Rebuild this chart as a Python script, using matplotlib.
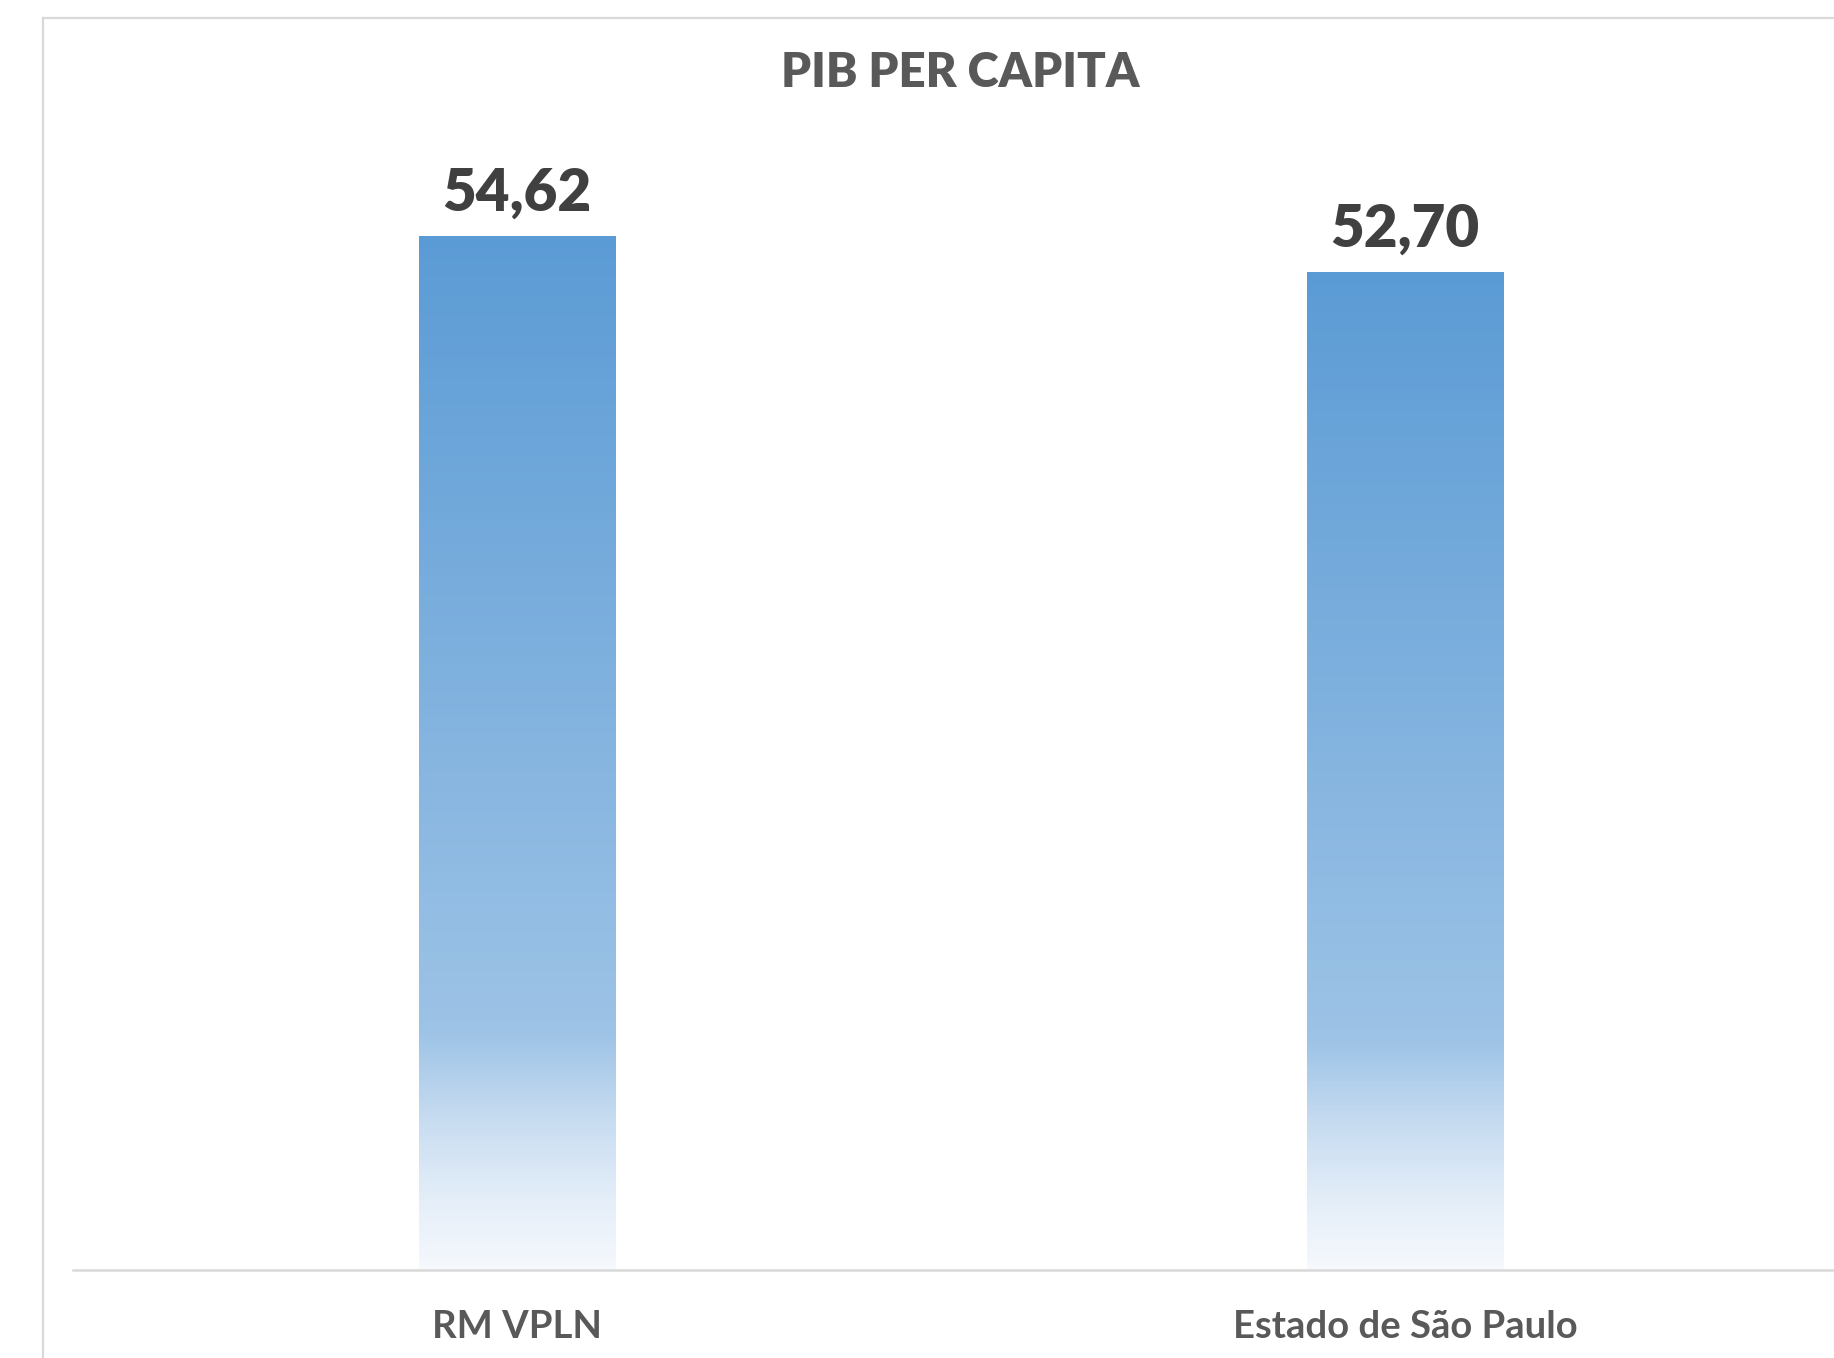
import numpy as np
import matplotlib
matplotlib.use("Agg")
import matplotlib.pyplot as plt
from matplotlib.colors import LinearSegmentedColormap
from matplotlib.lines import Line2D

categories = ["RM VPLN", "Estado de São Paulo"]
values = [54.62, 52.70]
value_labels = ["54,62", "52,70"]
title = "PIB PER CAPITA"

plt.rcParams['font.family'] = ['Lato', 'DejaVu Sans']

W, H = 1834, 1358
fig = plt.figure(figsize=(W / 100, H / 100), dpi=100)
fig.patch.set_facecolor("white")

# chart border (cropped on right and bottom)
bx, by = 43 / W, 1 - 18 / H
fig.add_artist(Line2D([bx, bx], [by, -0.01], transform=fig.transFigure, color="#d9d9d9", lw=1.6))
fig.add_artist(Line2D([bx, 1.01], [by, by], transform=fig.transFigure, color="#d9d9d9", lw=1.6))

ax = fig.add_axes([73 / W, 88 / H, 1776 / W, 1136 / H])
ax.set_xlim(-0.5, 1.5)
ax.set_ylim(0, 60)
ax.set_facecolor("none")
for s in ["top", "right", "left"]:
    ax.spines[s].set_visible(False)
ax.spines["bottom"].set_color("#d9d9d9")
ax.spines["bottom"].set_linewidth(1.8)
ax.set_yticks([])
ax.tick_params(axis="x", length=0, pad=29)

x = np.arange(len(categories))
bars = ax.bar(x, values, width=0.221, facecolor="none", edgecolor="none", zorder=2)

cmap = LinearSegmentedColormap.from_list(
    "grad",
    [(0.0, "#5B9BD5"), (0.77, "#9DC3E6"), (0.86, "#C9DDF1"), (0.93, "#E3EDF8"), (1.0, "#F6F9FD")],
)
grad = np.linspace(0, 1, 512).reshape(-1, 1)
for b in bars:
    x0, y0 = b.get_x(), b.get_y()
    w, h = b.get_width(), b.get_height()
    im = ax.imshow(grad, cmap=cmap, aspect="auto", extent=[x0, x0 + w, y0, y0 + h],
                   origin="upper", zorder=1, interpolation="bilinear")
    im.set_clip_path(b)

ax.set_xlim(-0.5, 1.5)
ax.set_ylim(0, 60)

for xi, v, lab in zip(x, values, value_labels):
    ax.annotate(lab, (xi, v), xytext=(0, 12), textcoords="offset points",
                ha="center", va="bottom", fontsize=42, fontweight="heavy", color="#404040")

ax.set_xticks(x)
ax.set_xticklabels(categories, fontsize=27.5, fontweight="bold", color="#595959")

fig.text(960 / W, 1 - 73 / H, title, ha="center", va="center", fontsize=34,
         fontweight="heavy", color="#595959")

fig.savefig("out.png", dpi=100)
